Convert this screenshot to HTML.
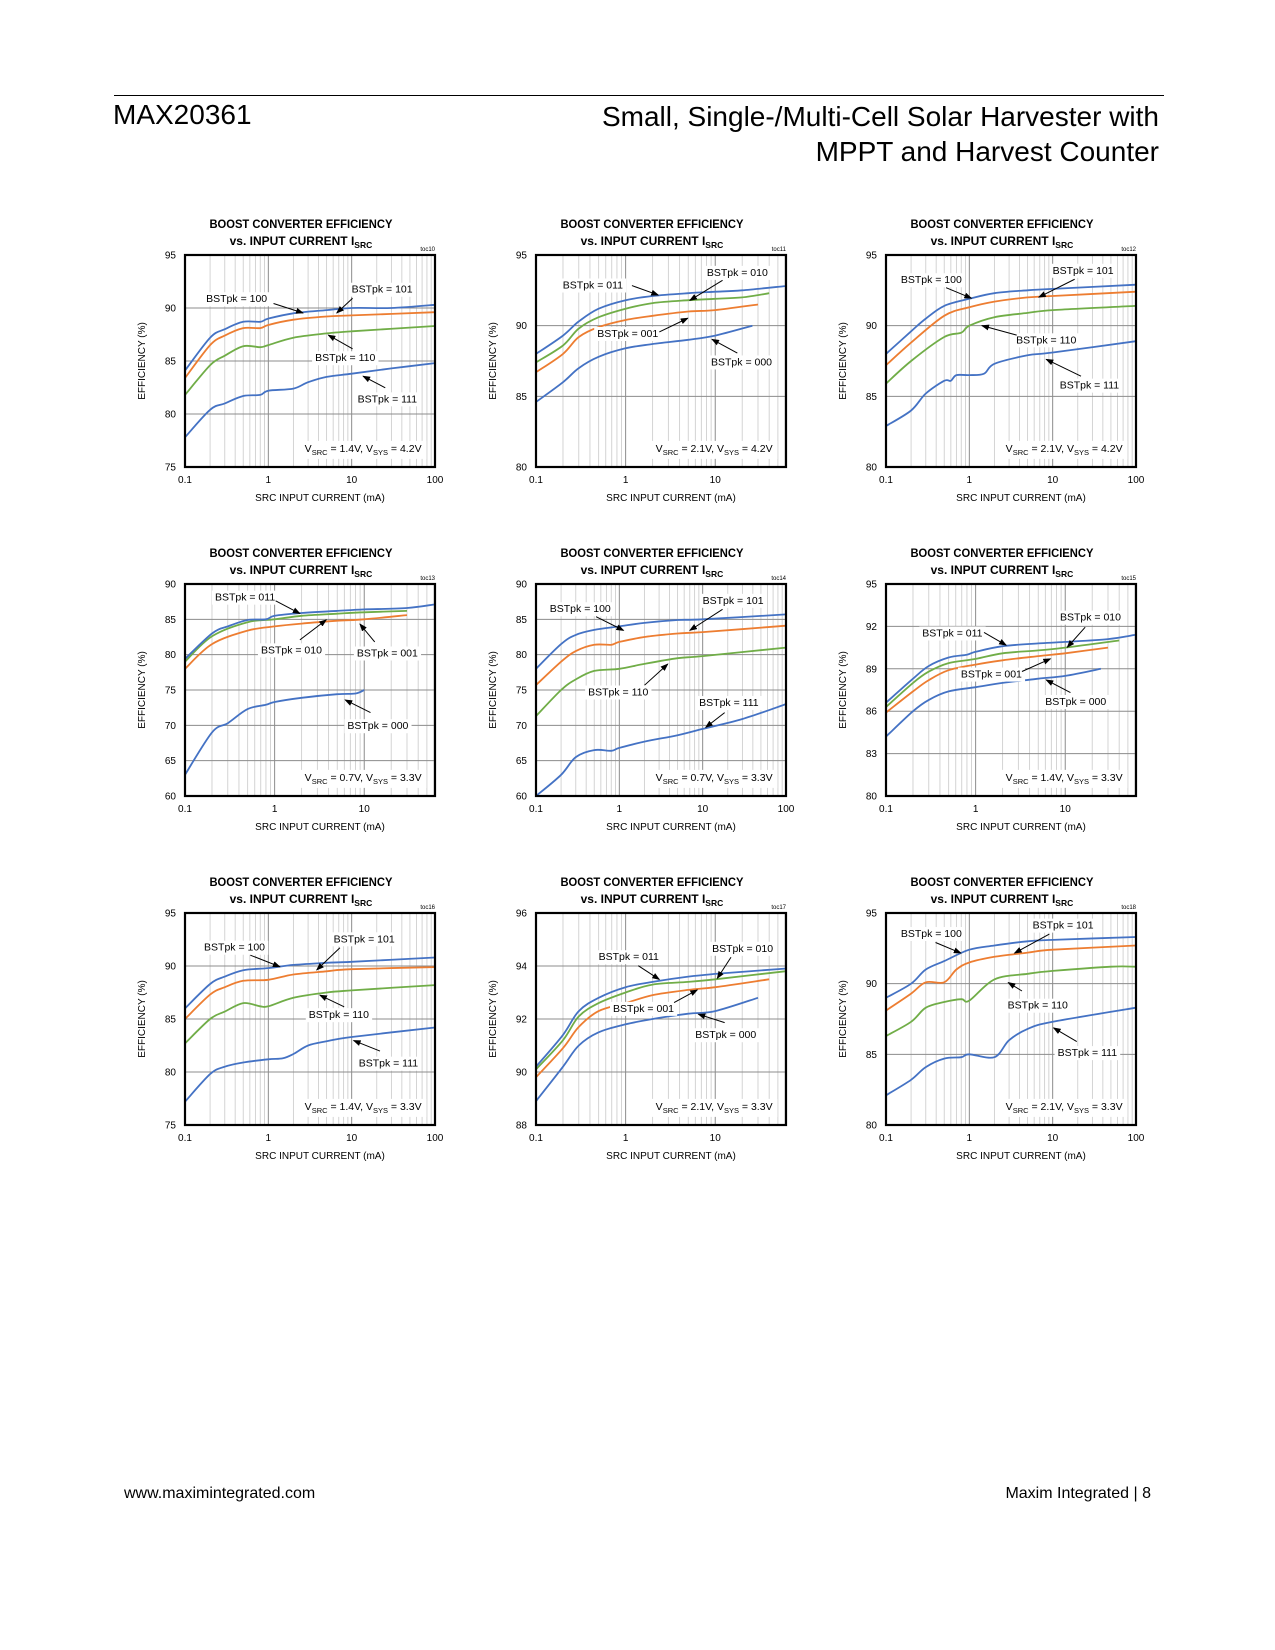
<!DOCTYPE html>
<html><head><meta charset="utf-8"><title>MAX20361 p8</title>
<style>
html,body{margin:0;padding:0;background:#fff;}
body{width:1275px;height:1650px;position:relative;overflow:hidden;font-family:"Liberation Sans",Arial,sans-serif;}
.hdr{position:absolute;color:#000;}
</style></head>
<body>
<div class="hdr" style="left:114px;top:95px;width:1050px;height:1px;background:#000;"></div>
<div class="hdr" style="left:113px;top:99px;font-size:28px;">MAX20361</div>
<div class="hdr" style="right:116px;top:99px;font-size:28px;text-align:right;line-height:35px;">Small, Single-/Multi-Cell Solar Harvester with<br>MPPT and Harvest Counter</div>
<div class="hdr" style="left:124px;top:1485px;font-size:16px;">www.maximintegrated.com</div>
<div class="hdr" style="right:124px;top:1485px;font-size:16px;">Maxim Integrated | 8</div>
<svg id="svg" width="1275" height="1650" style="position:absolute;left:0;top:0;" xmlns="http://www.w3.org/2000/svg">
<defs><marker id="ah" markerWidth="8" markerHeight="6" refX="7" refY="3" orient="auto" markerUnits="userSpaceOnUse"><path d="M0,0 L8,3 L0,6 z" fill="#000"/></marker></defs>
</svg>
<script>
const BLUE='#4472C4',ORANGE='#ED7D31',GREEN='#70AD47';
// chart 1 (toc10)
const c1_yticks=[75,80,85,90,95];
const c1_xticks=[0.1,1,10,100];
const c1_bst100=[[0.1,84.1],[0.2,87.2],[0.3,88],[0.5,88.7],[0.8,88.7],[1,89],[2,89.5],[5,89.8],[10,90],[30,90],[100,90.3]];
const c1_bst101=[[0.1,83.4],[0.2,86.5],[0.3,87.4],[0.5,88.1],[0.8,88.1],[1,88.4],[2,88.9],[5,89.2],[10,89.3],[100,89.6]];
const c1_bst110=[[0.1,81.8],[0.2,84.6],[0.3,85.5],[0.5,86.4],[0.8,86.3],[1,86.5],[2,87.2],[5,87.6],[10,87.8],[100,88.3]];
const c1_bst111=[[0.1,77.8],[0.2,80.4],[0.3,81],[0.5,81.7],[0.8,81.8],[1,82.2],[2,82.4],[3,83],[5,83.5],[10,83.8],[30,84.3],[100,84.8]];
// chart 2 (toc11)
const c2_yticks=[80,85,90,95];
const c2_xticks=[0.1,1,10];
const c2_bst010=[[0.1,88],[0.2,89.3],[0.3,90.3],[0.5,91.2],[1,91.8],[2,92.1],[5,92.3],[10,92.4],[20,92.5],[60,92.8]];
const c2_bst011=[[0.1,87.4],[0.2,88.6],[0.3,89.8],[0.5,90.6],[1,91.2],[2,91.6],[5,91.8],[10,91.9],[20,92],[40,92.3]];
const c2_bst001=[[0.1,86.7],[0.2,88],[0.3,89.2],[0.5,89.9],[1,90.4],[2,90.7],[5,91],[10,91.1],[30,91.5]];
const c2_bst000=[[0.1,84.6],[0.2,86],[0.3,87],[0.5,87.8],[1,88.4],[2,88.7],[5,89],[10,89.3],[26,90]];
// chart 3 (toc12)
const c3_yticks=[80,85,90,95];
const c3_xticks=[0.1,1,10,100];
const c3_bst100=[[0.1,88],[0.2,89.6],[0.3,90.5],[0.5,91.4],[1,91.9],[2,92.3],[5,92.5],[10,92.6],[100,92.9]];
const c3_bst101=[[0.1,87.2],[0.2,88.8],[0.5,90.7],[1,91.3],[2,91.7],[5,92],[10,92.1],[100,92.4]];
const c3_bst110=[[0.1,85.9],[0.2,87.5],[0.5,89.2],[0.8,89.5],[1,90],[2,90.6],[5,90.9],[10,91.1],[100,91.4]];
const c3_bst111=[[0.1,82.9],[0.2,84],[0.3,85.2],[0.5,86.1],[0.6,86.1],[0.7,86.5],[1,86.5],[1.5,86.6],[2,87.3],[5,87.9],[10,88.1],[100,88.9]];
// chart 4 (toc13)
const c4_yticks=[60,65,70,75,80,85,90];
const c4_xticks=[0.1,1,10];
const c4_bst011=[[0.1,79.4],[0.2,83],[0.3,84],[0.5,84.9],[0.8,85],[1,85.5],[2,85.9],[5,86.2],[10,86.4],[30,86.6],[60,87.1]];
const c4_bst001=[[0.1,79],[0.2,82.6],[0.5,84.6],[1,85],[2,85.5],[5,85.8],[10,86],[30,86.2]];
const c4_bst010=[[0.1,78],[0.2,81.5],[0.5,83.4],[1,84],[2,84.4],[5,84.8],[10,85],[30,85.6]];
const c4_bst000=[[0.1,63],[0.2,69],[0.3,70.3],[0.5,72.3],[0.8,72.9],[1,73.3],[2,73.9],[5,74.4],[8,74.5],[10,75]];
// chart 5 (toc14)
const c5_yticks=[60,65,70,75,80,85,90];
const c5_xticks=[0.1,1,10,100];
const c5_bst101=[[0.1,78],[0.2,81.5],[0.3,82.8],[0.5,83.5],[1,84],[2,84.5],[5,84.9],[10,85],[100,85.7]];
const c5_bst100=[[0.1,75.7],[0.2,79],[0.3,80.5],[0.5,81.4],[0.8,81.4],[1,81.8],[2,82.5],[5,83],[10,83.2],[100,84.1]];
const c5_bst110=[[0.1,71.3],[0.2,75],[0.3,76.5],[0.5,77.7],[1,78],[2,78.7],[5,79.5],[10,79.8],[100,81]];
const c5_bst111=[[0.1,60],[0.2,63],[0.3,65.5],[0.5,66.5],[0.8,66.4],[1,66.8],[2,67.7],[5,68.6],[10,69.5],[30,70.9],[100,73]];
// chart 6 (toc15)
const c6_yticks=[80,83,86,89,92,95];
const c6_xticks=[0.1,1,10];
const c6_bst011=[[0.1,86.6],[0.2,88.3],[0.3,89.2],[0.5,89.8],[0.8,90],[1,90.2],[2,90.6],[5,90.8],[10,90.9],[30,91.1],[60,91.4]];
const c6_bst010=[[0.1,86.3],[0.2,88],[0.3,88.8],[0.5,89.4],[1,89.7],[2,90.1],[5,90.3],[10,90.5],[40,91]];
const c6_bst001=[[0.1,85.9],[0.2,87.4],[0.3,88.2],[0.5,88.9],[1,89.3],[2,89.6],[5,89.9],[10,90.1],[30,90.5]];
const c6_bst000=[[0.1,84.2],[0.2,86],[0.3,86.8],[0.5,87.4],[1,87.7],[2,88],[5,88.3],[10,88.5],[25,89]];
// chart 7 (toc16)
const c7_yticks=[75,80,85,90,95];
const c7_xticks=[0.1,1,10,100];
const c7_bst100=[[0.1,86],[0.2,88.3],[0.3,89],[0.5,89.6],[1,89.8],[2,90.1],[5,90.3],[10,90.4],[100,90.8]];
const c7_bst101=[[0.1,85],[0.2,87.3],[0.3,88],[0.5,88.6],[1,88.7],[2,89.2],[5,89.5],[10,89.7],[100,89.9]];
const c7_bst110=[[0.1,82.7],[0.2,85],[0.3,85.7],[0.5,86.5],[0.8,86.2],[1,86.2],[2,87],[5,87.5],[10,87.7],[100,88.2]];
const c7_bst111=[[0.1,77.2],[0.2,79.8],[0.3,80.5],[0.5,80.9],[1,81.2],[1.5,81.3],[2,81.7],[3,82.5],[5,82.9],[10,83.3],[100,84.2]];
// chart 8 (toc17)
const c8_yticks=[88,90,92,94,96];
const c8_xticks=[0.1,1,10];
const c8_bst010=[[0.1,90.2],[0.2,91.4],[0.3,92.3],[0.5,92.8],[1,93.2],[2,93.4],[5,93.6],[10,93.7],[60,93.9]];
const c8_bst011=[[0.1,90.1],[0.2,91.2],[0.3,92.1],[0.5,92.6],[1,93],[2,93.3],[5,93.4],[10,93.5],[60,93.8]];
const c8_bst001=[[0.1,89.8],[0.2,90.9],[0.3,91.7],[0.5,92.3],[1,92.6],[2,92.9],[5,93.1],[10,93.2],[40,93.5]];
const c8_bst000=[[0.1,88.9],[0.2,90.2],[0.3,91],[0.5,91.5],[1,91.8],[2,92],[5,92.2],[10,92.3],[30,92.8]];
// chart 9 (toc18)
const c9_yticks=[80,85,90,95];
const c9_xticks=[0.1,1,10,100];
const c9_bst101=[[0.1,89],[0.2,90],[0.3,91],[0.5,91.6],[1,92.4],[2,92.7],[5,93],[10,93.1],[100,93.3]];
const c9_bst100=[[0.1,88.1],[0.2,89.3],[0.3,90.1],[0.5,90.1],[0.7,91],[1,91.5],[2,91.9],[5,92.2],[10,92.4],[100,92.7]];
const c9_bst110=[[0.1,86.3],[0.2,87.3],[0.3,88.3],[0.5,88.7],[0.8,88.9],[1,88.8],[2,90.3],[5,90.7],[10,90.9],[50,91.2],[100,91.2]];
const c9_bst111=[[0.1,82.1],[0.2,83.2],[0.3,84.1],[0.5,84.7],[0.8,84.8],[1,85],[2,84.8],[3,86],[5,86.8],[10,87.3],[100,88.3]];

const NS='http://www.w3.org/2000/svg';
const svg=document.getElementById('svg');
function el(tag,attrs,parent){const e=document.createElementNS(NS,tag);for(const k in attrs)e.setAttribute(k,attrs[k]);(parent||svg).appendChild(e);return e;}
const S=1.054;
const W=250,H=212;
function smoothPath(pts){
  let d='M'+pts[0][0].toFixed(1)+','+pts[0][1].toFixed(1);
  for(let i=0;i<pts.length-1;i++){
    const p0=pts[i-1]||pts[i],p1=pts[i],p2=pts[i+1],p3=pts[i+2]||p2;
    const c1x=p1[0]+(p2[0]-p0[0])/6,c1y=p1[1]+(p2[1]-p0[1])/6;
    const c2x=p2[0]-(p3[0]-p1[0])/6,c2y=p2[1]-(p3[1]-p1[1])/6;
    d+=' C'+c1x.toFixed(1)+','+c1y.toFixed(1)+' '+c2x.toFixed(1)+','+c2y.toFixed(1)+' '+p2[0].toFixed(1)+','+p2[1].toFixed(1);
  }
  return d;
}
function chart(c){
  const g=el('g',{});
  
  
  const ox=c.ox,oy=c.oy;
  const lx0=Math.log10(0.1),lx1=Math.log10(c.xmax);
  const X=v=>ox+(Math.log10(v)-lx0)/(lx1-lx0)*W;
  const Y=v=>oy+H-(v-c.ymin)/(c.ymax-c.ymin)*H;
  for(let d=0.1;d<c.xmax*1.0001;d*=10){
    for(let m=1;m<10;m++){const v=d*m;if(v>c.xmax*1.001)break;
      const gl=el('line',{x1:X(v),x2:X(v),y1:oy,y2:oy+H,stroke:m===1?'#8c8c8c':'#cfcfcf','stroke-width':m===1?1:0.9},g);
      
      
    }
  }
  c.yticks.forEach(t=>{
    const gl=el('line',{x1:ox,x2:ox+W,y1:Y(t),y2:Y(t),stroke:'#8c8c8c','stroke-width':1},g);
    
    
    const tl=el('text',{x:ox-9,y:Y(t)+3.5,'text-anchor':'end','font-size':10,fill:'#000'},g);
    tl.textContent=t;
    
    
  });
  c.xticks.forEach(t=>{
    const tl=el('text',{x:X(t),y:oy+H+16,'text-anchor':'middle','font-size':10,fill:'#000'},g);
    tl.textContent=t;
    
    
  });
  c.series.forEach(s=>{
    const pts=s.data.map(p=>[X(p[0]),Y(p[1])]);
    const p=el('path',{d:smoothPath(pts),fill:'none',stroke:s.color,'stroke-width':1.8,'stroke-linejoin':'round'},g);
    
    
  });
  const box=el('rect',{x:ox,y:oy,width:W,height:H,fill:'none',stroke:'#000','stroke-width':2.2},g);
  
  
  c.ann.forEach(a=>{
    const t=el('text',{x:ox+a[1]*S,y:oy+a[2]*S+4,'text-anchor':'middle','font-size':10.5,fill:'#000'},g);
    t.textContent=a[0];
    const bb=t.getBBox();
    const r=el('rect',{x:bb.x-3,y:bb.y-1,width:bb.width+6,height:bb.height+2,fill:'#fff'});
    g.insertBefore(r,t);
    
    
    const ln=el('line',{x1:ox+a[3]*S,y1:oy+a[4]*S,x2:ox+a[5]*S,y2:oy+a[6]*S,stroke:'#000','stroke-width':1,'marker-end':'url(#ah)'},g);
    
    
  });
  const vt=el('text',{x:ox+169*S,y:oy+183*S+4,'text-anchor':'middle','font-size':10.5,fill:'#000'},g);
  vt.innerHTML='V<tspan font-size="7.5" dy="3">SRC</tspan><tspan dy="-3"> = '+c.vsrc+', V</tspan><tspan font-size="7.5" dy="3">SYS</tspan><tspan dy="-3"> = '+c.vsys+'</tspan>';
  const vb=vt.getBBox();
  const vr=el('rect',{x:vb.x-5,y:vb.y-2,width:vb.width+10,height:vb.height+4,fill:'#fff'});
  g.insertBefore(vr,vt);
  
  
  const cx=ox+110*S;
  const t1=el('text',{x:cx,y:oy-27,'text-anchor':'middle','font-size':12,'font-weight':'bold',textLength:183,lengthAdjust:'spacingAndGlyphs'},g);
  t1.textContent='BOOST CONVERTER EFFICIENCY';
  
  
  const t2=el('text',{x:cx,y:oy-10,'text-anchor':'middle','font-size':12,'font-weight':'bold'},g);
  t2.innerHTML='vs. INPUT CURRENT I<tspan font-size="8.5" dy="3">SRC</tspan>';
  
  
  const tc=el('text',{x:ox+W,y:oy-4,'text-anchor':'end','font-size':6,fill:'#000'},g);
  tc.textContent=c.toc;
  
  
  const ya=el('text',{x:0,y:0,'text-anchor':'middle','font-size':10,transform:'translate('+(ox-40)+','+(oy+H/2)+') rotate(-90)'},g);
  ya.textContent='EFFICIENCY (%)';
  
  
  const xa=el('text',{x:ox+135,y:oy+H+34,'text-anchor':'middle','font-size':10},g);
  xa.textContent='SRC INPUT CURRENT (mA)';
  
  
}
const XM=61.6;
const C1=185,C2=536,C3=886,R1=255,R2=584,R3=913;
chart({toc:'toc10',ox:C1,oy:R1,xmax:100,ymin:75,ymax:95,yticks:c1_yticks,xticks:c1_xticks,vsrc:'1.4V',vsys:'4.2V',
 series:[{name:'bst111',data:c1_bst111,color:BLUE},{name:'bst110',data:c1_bst110,color:GREEN},{name:'bst101',data:c1_bst101,color:ORANGE},{name:'bst100',data:c1_bst100,color:BLUE}],
 ann:[['BSTpk = 100',49,41,84,46,112,55],['BSTpk = 101',187,32,159,41,144,55],['BSTpk = 110',152,97,159,89,136,76],['BSTpk = 111',192,136,190,126,169,115]]});
chart({toc:'toc11',ox:C2,oy:R1,xmax:XM,ymin:80,ymax:95,yticks:c2_yticks,xticks:c2_xticks,vsrc:'2.1V',vsys:'4.2V',
 series:[{name:'bst000',data:c2_bst000,color:BLUE},{name:'bst001',data:c2_bst001,color:ORANGE},{name:'bst011',data:c2_bst011,color:GREEN},{name:'bst010',data:c2_bst010,color:BLUE}],
 ann:[['BSTpk = 011',54,28,91,29,116,38],['BSTpk = 010',191,16,177,24,146,43],['BSTpk = 001',87,74,117,73,144,60],['BSTpk = 000',195,101,191,93,167,80]]});
chart({toc:'toc12',ox:C3,oy:R1,xmax:100,ymin:80,ymax:95,yticks:c3_yticks,xticks:c3_xticks,vsrc:'2.1V',vsys:'4.2V',
 series:[{name:'bst111',data:c3_bst111,color:BLUE},{name:'bst110',data:c3_bst110,color:GREEN},{name:'bst101',data:c3_bst101,color:ORANGE},{name:'bst100',data:c3_bst100,color:BLUE}],
 ann:[['BSTpk = 100',43,23,57,31,81,41],['BSTpk = 101',187,14,179,23,145,40],['BSTpk = 110',152,80,124,76,91,67],['BSTpk = 111',193,123,185,115,152,99]]});
chart({toc:'toc13',ox:C1,oy:R2,xmax:XM,ymin:60,ymax:90,yticks:c4_yticks,xticks:c4_xticks,vsrc:'0.7V',vsys:'3.3V',
 series:[{name:'bst000',data:c4_bst000,color:BLUE},{name:'bst010',data:c4_bst010,color:ORANGE},{name:'bst001',data:c4_bst001,color:GREEN},{name:'bst011',data:c4_bst011,color:BLUE}],
 ann:[['BSTpk = 011',57,12,86,16,109,28],['BSTpk = 010',101,62,109,53,134,34],['BSTpk = 001',192,65,180,55,166,38],['BSTpk = 000',183,134,176,122,152,110]]});
chart({toc:'toc14',ox:C2,oy:R2,xmax:100,ymin:60,ymax:90,yticks:c5_yticks,xticks:c5_xticks,vsrc:'0.7V',vsys:'3.3V',
 series:[{name:'bst111',data:c5_bst111,color:BLUE},{name:'bst110',data:c5_bst110,color:GREEN},{name:'bst100',data:c5_bst100,color:ORANGE},{name:'bst101',data:c5_bst101,color:BLUE}],
 ann:[['BSTpk = 100',42,23,57,31,83,44],['BSTpk = 101',187,15,177,24,146,44],['BSTpk = 110',78,102,103,96,125,76],['BSTpk = 111',183,112,179,122,161,136]]});
chart({toc:'toc15',ox:C3,oy:R2,xmax:XM,ymin:80,ymax:95,yticks:c6_yticks,xticks:c6_xticks,vsrc:'1.4V',vsys:'3.3V',
 series:[{name:'bst000',data:c6_bst000,color:BLUE},{name:'bst001',data:c6_bst001,color:ORANGE},{name:'bst010',data:c6_bst010,color:GREEN},{name:'bst011',data:c6_bst011,color:BLUE}],
 ann:[['BSTpk = 011',63,46,93,46,114,58],['BSTpk = 010',194,31,189,41,172,60],['BSTpk = 001',100,85,129,83,156,71],['BSTpk = 000',180,111,175,103,152,91]]});
chart({toc:'toc16',ox:C1,oy:R3,xmax:100,ymin:75,ymax:95,yticks:c7_yticks,xticks:c7_xticks,vsrc:'1.4V',vsys:'3.3V',
 series:[{name:'bst111',data:c7_bst111,color:BLUE},{name:'bst110',data:c7_bst110,color:GREEN},{name:'bst101',data:c7_bst101,color:ORANGE},{name:'bst100',data:c7_bst100,color:BLUE}],
 ann:[['BSTpk = 100',47,32,62,40,90,51],['BSTpk = 101',170,24,147,33,125,54],['BSTpk = 110',146,96,151,89,128,78],['BSTpk = 111',193,142,185,131,160,121]]});
chart({toc:'toc17',ox:C2,oy:R3,xmax:XM,ymin:88,ymax:96,yticks:c8_yticks,xticks:c8_xticks,vsrc:'2.1V',vsys:'3.3V',
 series:[{name:'bst000',data:c8_bst000,color:BLUE},{name:'bst001',data:c8_bst001,color:ORANGE},{name:'bst011',data:c8_bst011,color:GREEN},{name:'bst010',data:c8_bst010,color:BLUE}],
 ann:[['BSTpk = 011',88,41,97,50,117,63],['BSTpk = 010',196,33,185,42,172,62],['BSTpk = 001',102,90,131,85,153,73],['BSTpk = 000',180,115,179,104,154,96]]});
chart({toc:'toc18',ox:C3,oy:R3,xmax:100,ymin:80,ymax:95,yticks:c9_yticks,xticks:c9_xticks,vsrc:'2.1V',vsys:'3.3V',
 series:[{name:'bst111',data:c9_bst111,color:BLUE},{name:'bst110',data:c9_bst110,color:GREEN},{name:'bst100',data:c9_bst100,color:ORANGE},{name:'bst101',data:c9_bst101,color:BLUE}],
 ann:[['BSTpk = 100',43,19,47,28,71,38],['BSTpk = 101',168,11,155,20,122,38],['BSTpk = 110',144,87,129,74,116,66],['BSTpk = 111',191,132,181,122,159,109]]});
</script>
</body></html>
